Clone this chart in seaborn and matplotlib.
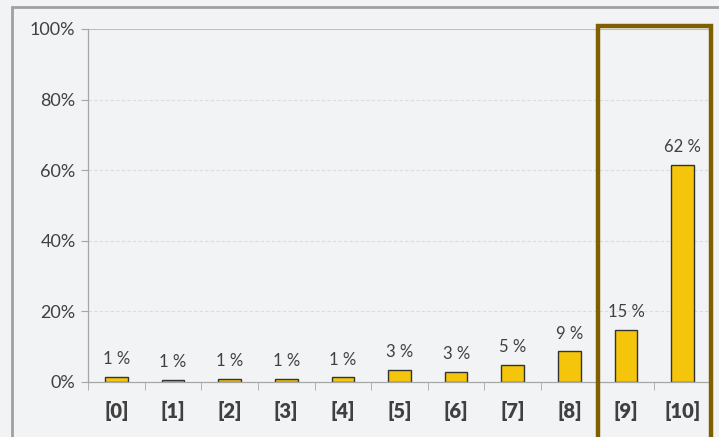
import numpy as np
import pandas as pd
import matplotlib
matplotlib.use("Agg")
import matplotlib.pyplot as plt
import seaborn as sns
from matplotlib.patches import Rectangle

categories = ["[0]", "[1]", "[2]", "[3]", "[4]", "[5]", "[6]", "[7]", "[8]", "[9]", "[10]"]
shares = [1.4, 0.6, 0.8, 0.8, 1.3, 3.4, 2.9, 4.8, 8.7, 14.7, 61.5]
shown_labels = ["1 %", "1 %", "1 %", "1 %", "1 %", "3 %", "3 %", "5 %", "9 %", "15 %", "62 %"]
y_ticks = [0, 20, 40, 60, 80, 100]

df = pd.DataFrame({"cat": categories, "share": shares})

sns.set_style("white")
plt.rcParams['font.family'] = ['Lato', 'DejaVu Sans']

bg = "#f2f3f5"
fig = plt.figure(figsize=(7.19, 4.37), dpi=100, facecolor=bg)
ax = fig.add_axes([0.1224, 0.1259, 0.8665, 0.8078])
ax.set_facecolor(bg)

sns.barplot(data=df, x="cat", y="share", color="#f5c50c", edgecolor="#333333",
            linewidth=1.0, width=0.4, saturation=1, ax=ax)

ax.bar_label(ax.containers[0], labels=shown_labels, padding=7, fontsize=12, color="#404040")

ax.set_ylim(0, 100)
ax.set_xlim(-0.5, 10.5)
ax.set_yticks(y_ticks)
ax.set_yticklabels([f"{t}%" for t in y_ticks], fontsize=13, color="#404040")
ax.set_xticks(range(len(categories)))
ax.set_xticklabels(categories, fontsize=14.5, fontweight="heavy", color="#404040")
ax.set_xlabel("")
ax.set_ylabel("")

# gridlines
for t in y_ticks[1:-1]:
    ax.axhline(t, color="#dcdcdc", lw=0.8, ls=(0, (3, 2)), zorder=0)
ax.axhline(100, color="#bfbfbf", lw=0.8, zorder=0)

for s in ["top", "right"]:
    ax.spines[s].set_visible(False)
for s in ["left", "bottom"]:
    ax.spines[s].set_color("#a6a6a6")
    ax.spines[s].set_linewidth(0.9)

ax.tick_params(axis="y", length=5, color="#a6a6a6", pad=4, left=True)
ax.tick_params(axis="x", length=0, pad=14)
# minor ticks between categories on the x axis
ax.set_xticks(np.arange(-0.5, 10.5, 1), minor=True)
ax.tick_params(axis="x", which="minor", length=6, color="#a6a6a6", bottom=True)

# outer chart border
fig.patches.append(Rectangle((12 / 719, -0.1), 1.2, 1.1 - 7 / 437, transform=fig.transFigure,
                             fill=False, edgecolor="#a0a0a0", lw=2))

# highlight box around [9] and [10]
ax.add_patch(Rectangle((8.5, -25), 2.0, 25 + 100.9, fill=False, edgecolor="#7f6000",
                       lw=3.2, clip_on=False, zorder=5))

fig.savefig("out.png", dpi=100, facecolor=bg)
